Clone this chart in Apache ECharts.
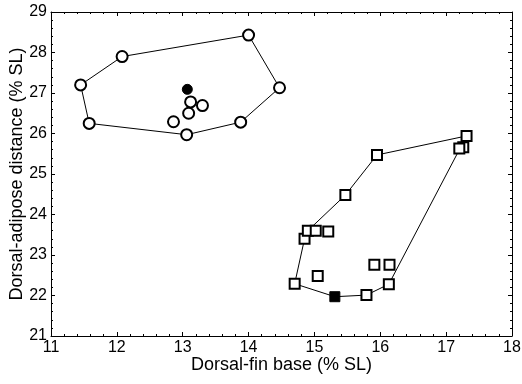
<!DOCTYPE html>
<html>
<head>
<meta charset="utf-8">
<script src="https://cdn.jsdelivr.net/npm/echarts@6/dist/echarts.min.js"></script>
<style>
html,body{margin:0;padding:0;background:#fff;}
#chart{width:522px;height:384px;}
</style>
</head>
<body>
<div id="chart"></div>
<script>
// group A (circles), hull vertices in drawing order
var circleHull = [
	[11.45, 27.2], [12.08, 27.9], [14.0, 28.43], [14.47, 27.13],
	[13.88, 26.28], [13.06, 25.97], [11.58, 26.25]
]
var circleInner = [[13.12, 26.78], [13.3, 26.69], [13.09, 26.5], [12.86, 26.29]]
var circleFilled = [[13.07, 27.09]]

// group B (squares)
var squareHull = [
	[14.7, 22.29], [14.85, 23.4], [14.9, 23.6], [15.47, 24.48], [15.95, 25.47],
	[17.31, 25.94], [16.13, 22.28], [15.79, 22.01], [15.31, 21.97]
]
var squareInner = [
	[17.26, 25.66], [17.2, 25.63], [15.02, 23.6], [15.21, 23.58],
	[15.05, 22.48], [15.91, 22.76], [16.14, 22.76]
]
var squareFilled = [[15.31, 21.97]]

var xTicks = [11, 18, 1]
var yTicks = [21, 29, 1]

var font = "Liberation Sans"

function closed(pts){ return pts.concat([pts[0]]) }

function axis(base, pos, showLabel){
	return {
		type: "value",
		position: pos,
		min: base[0], max: base[1], interval: base[2],
		axisLine: { show: true, onZero: false, lineStyle: { color: "#000", width: 1 } },
		axisTick: { show: true, inside: true, length: 4, lineStyle: { color: "#000" } },
		minorTick: { show: true, splitNumber: 5, length: 2, lineStyle: { color: "#000" } },
		splitLine: { show: false },
		axisLabel: { show: showLabel, color: "#000", fontSize: 16, fontFamily: font, margin: 4 }
	}
}

var xMain = axis(xTicks, "bottom", true)
xMain.name = "Dorsal-fin base (% SL)"
xMain.nameLocation = "middle"
xMain.nameGap = 20
xMain.nameMoveOverlap = false
xMain.nameTextStyle = { color: "#000", fontSize: 18, fontFamily: font }
var yMain = axis(yTicks, "left", true)
yMain.name = "Dorsal-adipose distance (% SL)"
yMain.nameLocation = "middle"
yMain.nameGap = 25
yMain.nameMoveOverlap = false
yMain.nameTextStyle = { color: "#000", fontSize: 18, fontFamily: font }

var hollow = { color: "#fff", borderColor: "#000", borderWidth: 2, opacity: 1 }
var solid = { color: "#000", borderColor: "#000", borderWidth: 1, opacity: 1 }

var option = {
	animation: false,
	backgroundColor: "#fff",
	grid: { left: 51, right: 10, top: 12, bottom: 48, containLabel: false, outerBoundsMode: "none" },
	xAxis: [xMain, axis(xTicks, "top", false)],
	yAxis: [yMain, axis(yTicks, "right", false)],
	series: [
		{ type: "line", data: closed(circleHull), symbol: "none", z: 1,
			lineStyle: { color: "#000", width: 1 } },
		{ type: "line", data: closed(squareHull), symbol: "none", z: 1,
			lineStyle: { color: "#000", width: 1 } },
		{ type: "scatter", data: circleHull.concat(circleInner), symbol: "circle", symbolSize: 11, z: 3,
			itemStyle: hollow },
		{ type: "scatter", data: circleFilled, symbol: "circle", symbolSize: 10, z: 3,
			itemStyle: solid },
		{ type: "scatter", data: squareHull.slice(0, 8).concat(squareInner), symbol: "rect", symbolSize: 10, z: 3,
			itemStyle: hollow },
		{ type: "scatter", data: squareFilled, symbol: "rect", symbolSize: 10, z: 4,
			itemStyle: solid }
	]
}

var myChart = echarts.init(document.getElementById("chart"))
myChart.setOption(option)
</script>
</body>
</html>
